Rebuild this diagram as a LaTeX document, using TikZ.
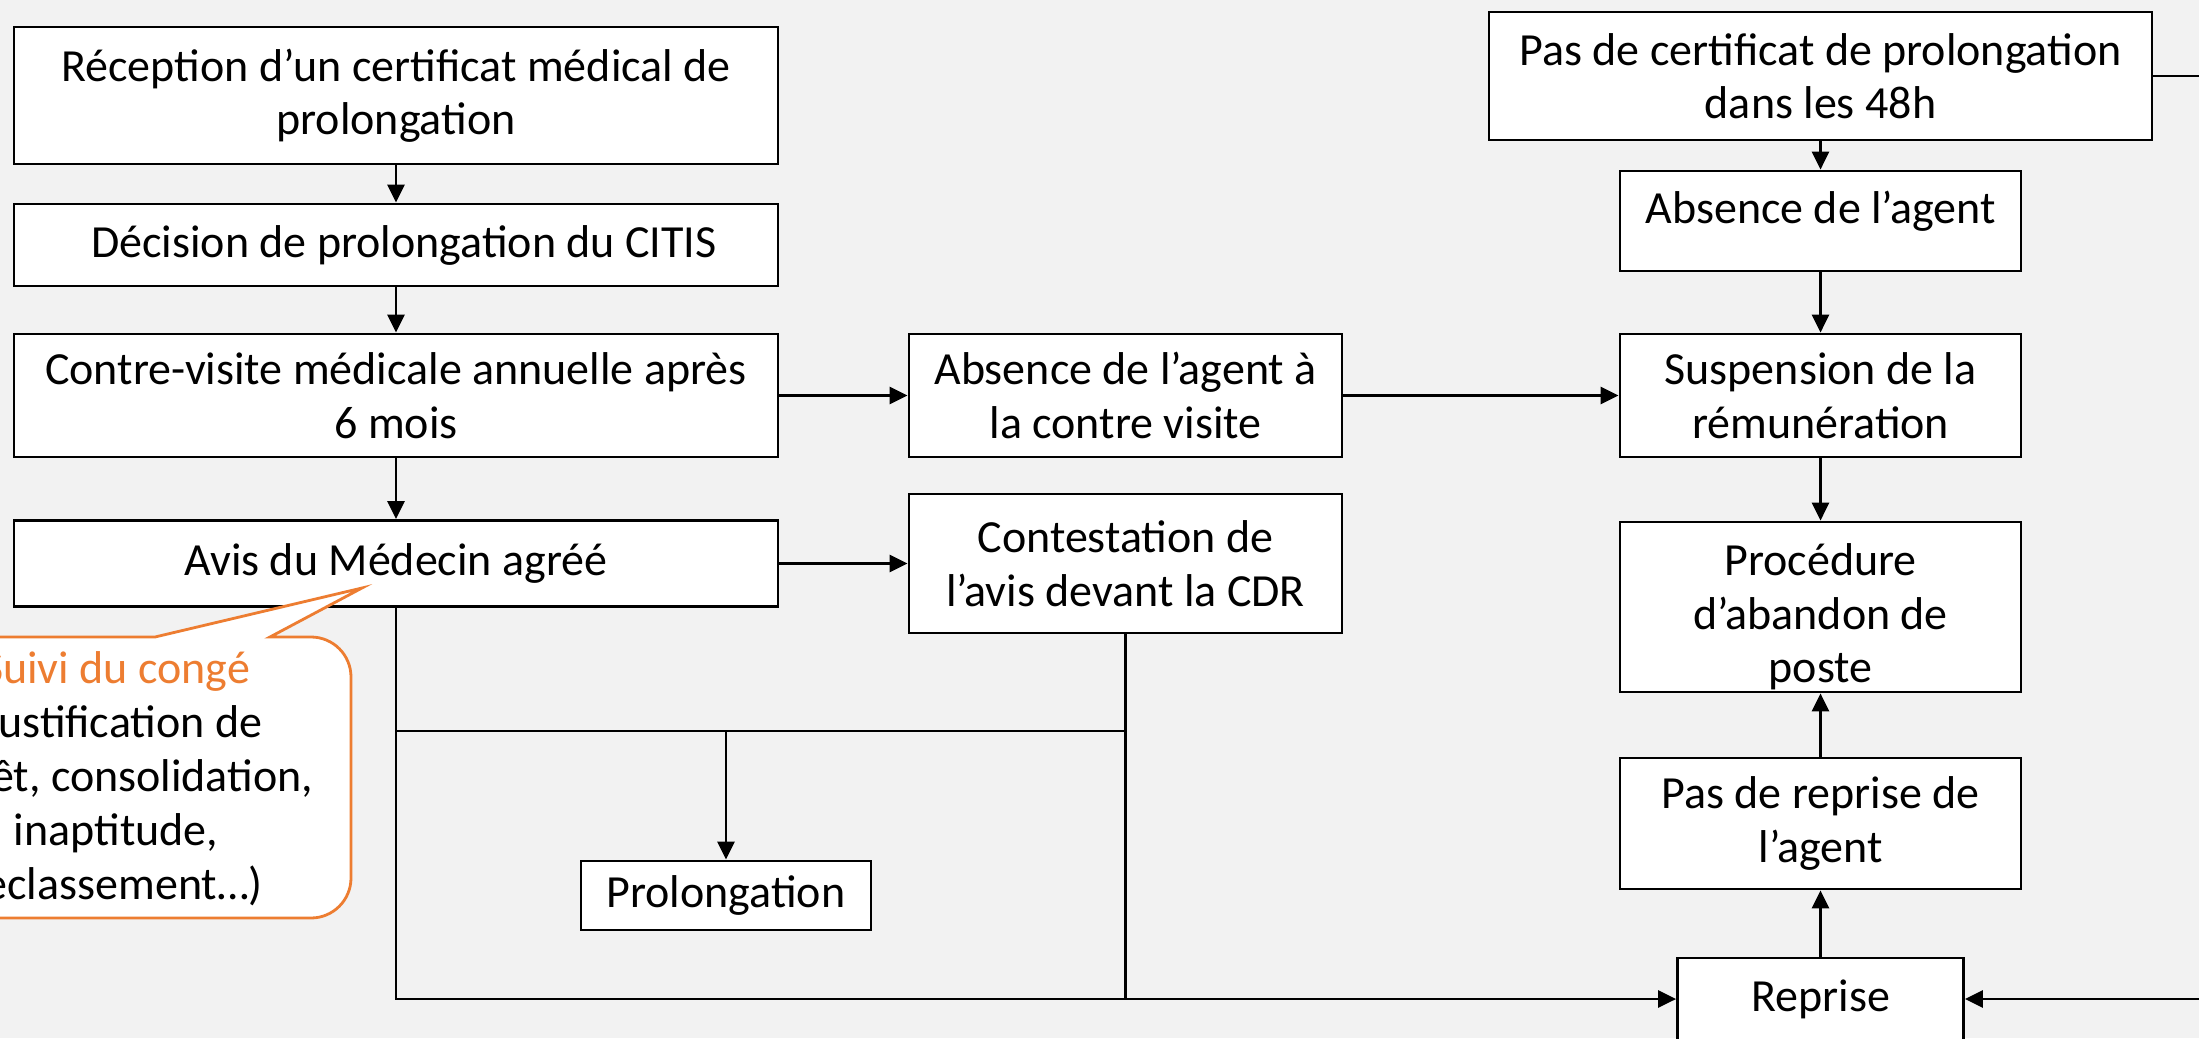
\documentclass[tikz,border=0pt]{standalone}
\usepackage{fontspec}
\setmainfont{Carlito}
\usetikzlibrary{arrows.meta}
\definecolor{bggray}{HTML}{F2F2F2}
\definecolor{orng}{HTML}{ED7D31}
\begin{document}
\begin{tikzpicture}[x=0.5pt,y=-0.5pt,
  box/.style={draw=black, fill=white, line width=1.4pt, inner sep=0pt, align=center,
              font=\fontsize{23}{26.75}\selectfont},
  txt/.style={inner sep=0pt, align=center, font=\fontsize{23}{26.75}\selectfont},
  conn/.style={line width=1.4pt, draw=black},
  arr/.style={conn, -{Triangle[length=9pt,width=8.5pt]}}]
\useasboundingbox (0,0) rectangle (2199,1038);
\fill[bggray] (0,0) rectangle (2199,1038);
\clip (0,0) rectangle (2199,1038);

% left column
\node[box, minimum width=382pt, minimum height=68.5pt] (rec) at (396,95.5) {Réception d’un certificat médical de\\prolongation};
\node[box, minimum width=382pt, minimum height=41pt] (dec) at (396,245) {\hspace*{8pt}Décision de prolongation du CITIS};
\node[box, minimum width=382pt, minimum height=61.5pt] (cv) at (396,395.5) {Contre-visite médicale annuelle après\\6 mois};
\node[box, minimum width=382pt, minimum height=43pt] (avis) at (396,563.5) {Avis du Médecin agréé};

% middle column
\node[box, minimum width=216.5pt, minimum height=61.5pt] (abscv) at (1125.5,395.5) {Absence de l’agent à\\la contre visite};
\node[box, minimum width=216.5pt, minimum height=69.5pt] (contest) at (1125.5,563.5) {Contestation de\\l’avis devant la CDR};
\node[box, minimum width=145pt, minimum height=34.5pt] (prol) at (726,895.5) {Prolongation};

% right column
\node[box, minimum width=331.5pt, minimum height=64pt] (pascert) at (1820.5,76) {Pas de certificat de prolongation\\dans les 48h};
\node[box, minimum width=200.5pt, minimum height=50pt] (absag) at (1820.5,221) {};
\node[txt] (absagt) at (1820.5,211) {Absence de l’agent};
\node[box, minimum width=200.5pt, minimum height=61.5pt] (susp) at (1820.5,395.5) {Suspension de la\\rémunération};
\node[box, minimum width=200.5pt, minimum height=85pt] (proc) at (1820.5,607) {};
\node[txt] (proct) at (1820.5,617) {Procédure\\d’abandon de\\poste};
\node[box, minimum width=200.5pt, minimum height=65.5pt] (pasrep) at (1820.5,823.5) {Pas de reprise de\\l’agent};
\node[box, minimum width=143pt, minimum height=41pt] (reprise) at (1820.5,999) {Reprise};

% junctions
\coordinate (j1) at (396,731);
\coordinate (j2) at (1125.5,731);
\coordinate (rt) at (2260,76);

% connectors
\draw[arr] (rec) -- (dec);
\draw[arr] (dec) -- (cv);
\draw[arr] (cv) -- (avis);
\draw[arr] (cv) -- (abscv);
\draw[arr] (abscv) -- (susp);
\draw[arr] (avis) -- (contest);
\draw[arr] (avis.south) |- (reprise.west);
\draw[conn] (j1) -- (j2);
\draw[conn] (contest.south) -- (contest.south |- reprise.west);
\draw[arr] (prol.north |- j1) -- (prol.north);
\draw[arr] (pascert) -- (absag);
\draw[arr] (absag) -- (susp);
\draw[arr] (susp) -- (proc);
\draw[arr] (pasrep) -- (proc);
\draw[arr] (reprise) -- (pasrep);
\draw[arr] (pascert.east) -- (rt) |- (reprise.east);

% callout
\draw[orng, fill=white, line width=1.4pt, line join=miter]
  (155,637) -- (362,588) -- (270,637) -- (311,637)
  arc[start angle=90, end angle=0, radius=20pt] -- (351,878)
  arc[start angle=0, end angle=-90, radius=20pt] -- (-83,918)
  arc[start angle=270, end angle=180, radius=20pt] -- (-123,677)
  arc[start angle=180, end angle=90, radius=20pt] -- cycle;
\node[txt, font=\fontsize{23}{27}\selectfont] (callt) at (116,779)
  {\textcolor{orng}{Suivi du congé}\\(Justification de\\l’arrêt, consolidation,\\inaptitude,\\reclassement…)};
\end{tikzpicture}
\end{document}
